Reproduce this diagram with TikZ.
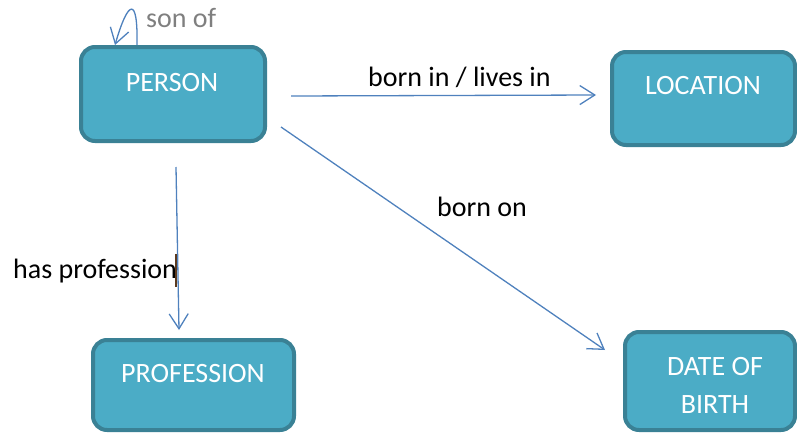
\documentclass[tikz,border=0pt]{standalone}
\usepackage{fontspec}
\setmainfont{Carlito}
\usetikzlibrary{arrows.meta,calc}
\definecolor{boxfill}{HTML}{4BACC6}
\definecolor{boxline}{HTML}{3A8195}
\definecolor{linkblue}{HTML}{4F81BD}
\definecolor{cursorbrown}{HTML}{5C3A1E}
\definecolor{loopgray}{HTML}{7F7F7F}
\tikzset{
  entity/.style={draw=boxline, fill=boxfill, line width=4pt, rounded corners=14pt, inner sep=0pt},
  entitytext/.style={text=white, font=\fontsize{28}{38}\selectfont, anchor=base, inner sep=0pt, align=center},
  relation/.style={draw=linkblue, line width=1.3pt, -{Straight Barb[length=15pt,width=19pt]}},
  rellabel/.style={font=\fontsize{28}{34}\selectfont, anchor=base west, inner sep=0pt},
}
\begin{document}
\begin{tikzpicture}[x=1pt,y=-1pt]
\useasboundingbox (0,0) rectangle (797,434);
\clip (0,0) rectangle (797,434);

% entity boxes
\node[entity, minimum width=184pt, minimum height=94pt] (person) at (173,94) {};
\node[entity, minimum width=183pt, minimum height=93pt] (location) at (703.5,98.5) {};
\node[entity, minimum width=201pt, minimum height=90pt] (profession) at (193.5,385) {};
\node[entity, minimum width=170pt, minimum height=98pt] (date) at (710,381) {};

% entity names (a multi-line node sits on the baseline of its last line)
\node[entitytext] (personname) at (172,91) {PERSON};
\node[entitytext] (locationname) at (703,94) {LOCATION};
\node[entitytext] (professionname) at (193,382) {PROFESSION};
\node[entitytext] (datename) at (715,413) {DATE OF\\BIRTH};

% relations
\draw[relation] ($(person.center)+(118,2)$) -- ($(location.center)+(-107.5,-3.5)$);
\draw[relation] ($(person.center)+(108,33)$) -- ($(date.center)+(-105,-31)$);
\draw[relation] ($(person.center)+(3,73)$) -- ($(profession.center)+(-14.5,-55)$);
\draw[relation] ($(person.center)+(-36,-49)$) .. controls ($(person.center)+(-35,-99)$) and ($(person.center)+(-45,-94)$) .. ($(person.center)+(-58,-49)$);

% relation labels
\node[rellabel, text=loopgray] (sonof) at (146,27) {son of};
\node[rellabel] (bornin) at (368,86) {born in / lives in};
\node[rellabel] (bornon) at (437,216) {born on};
\node[rellabel] (hasprof) at (13,278) {has profession};

% text cursor right after the label
\coordinate (cursortop) at (176,254);
\coordinate (cursorbottom) at (176,287);
\draw[cursorbrown, line width=1.5pt] (cursortop) -- (cursorbottom);
\end{tikzpicture}
\end{document}
